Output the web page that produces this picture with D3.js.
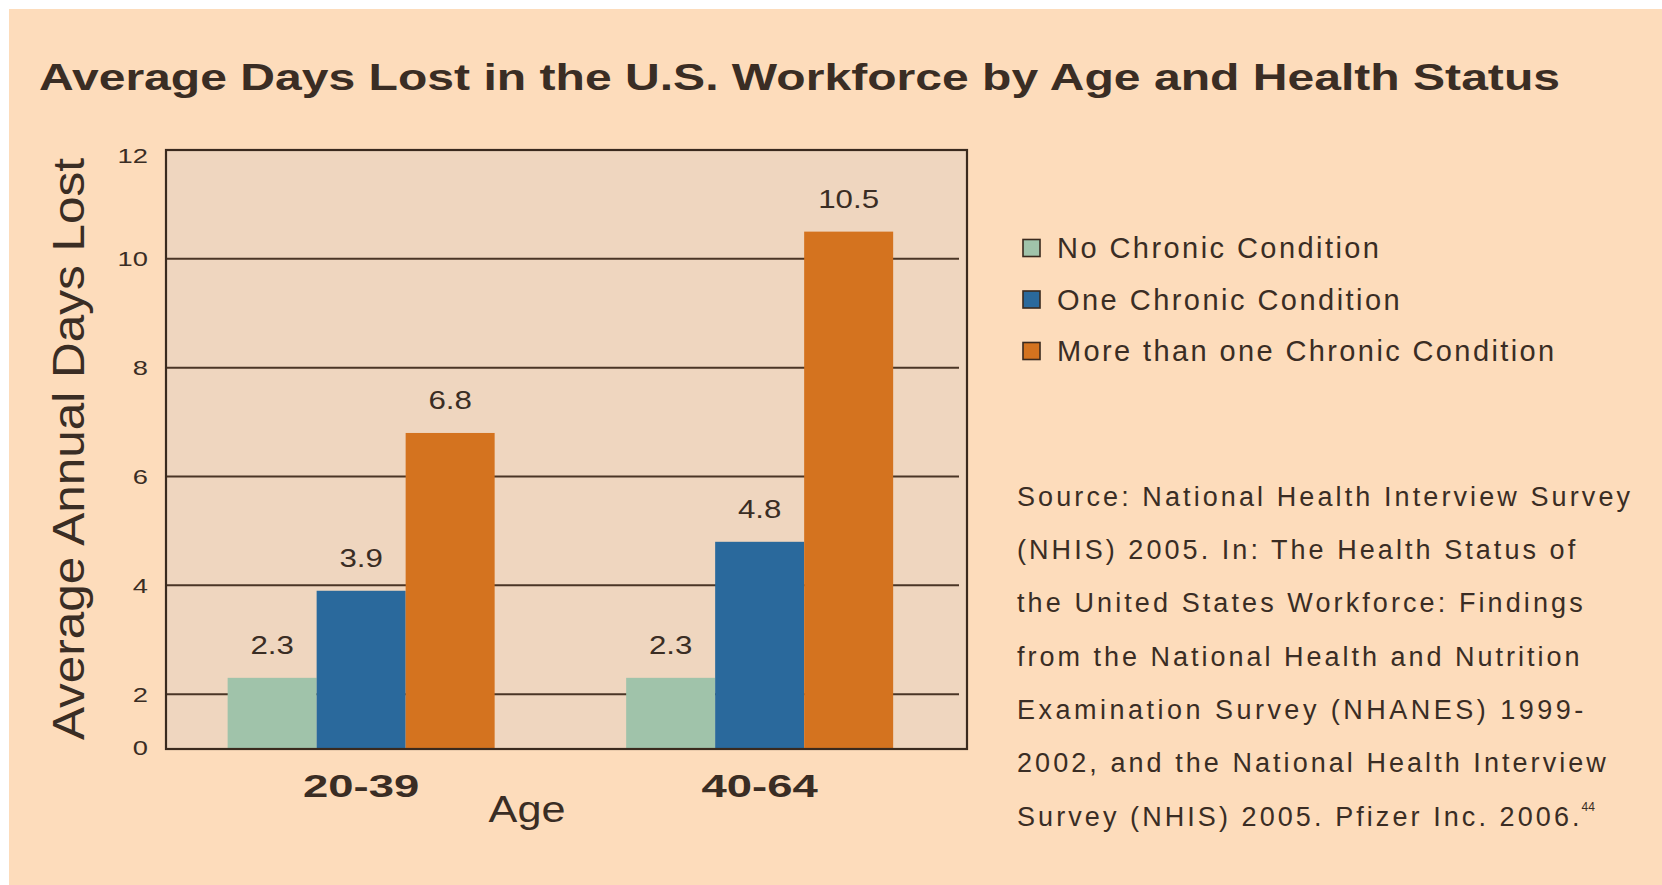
<!DOCTYPE html>
<html>
<head>
<meta charset="utf-8">
<script src="https://cdn.jsdelivr.net/npm/d3@7"></script>
<style>
  html, body { margin: 0; padding: 0; background: #ffffff; }
  svg { display: block; }
  text { font-family: "Liberation Sans", Arial, Helvetica, sans-serif; fill: #3a2d24; }
</style>
</head>
<body>
<svg id="chart" width="1662" height="885"></svg>
<script>
// ---- data ----
const ageGroups = ["20-39", "40-64"];
const conditions = ["No Chronic Condition", "One Chronic Condition", "More than one Chronic Condition"];
const noChronic = [2.3, 2.3];
const oneChronic = [3.9, 4.8];
const multiChronic = [6.8, 10.5];
const yTickValues = [0, 2, 4, 6, 8, 10, 12];
const gridValues = [2, 4, 6, 8, 10];
const sourceLines = [
  "Source: National Health Interview Survey",
  "(NHIS) 2005. In: The Health Status of",
  "the United States Workforce: Findings",
  "from the National Health and Nutrition",
  "Examination Survey (NHANES) 1999-",
  "2002, and the National Health Interview",
  "Survey (NHIS) 2005. Pfizer Inc. 2006."
];
const sourceNote = "44";

const seriesValues = [noChronic, oneChronic, multiChronic];
const colors = ["#a0c3aa", "#2a699c", "#d4731f"];

// ---- layout ----
const W = 1662, H = 885;
const plot = { left: 166, right: 967, top: 150, bottom: 749 };
const ink = "#3a2a1e";

const svg = d3.select("#chart");

// stretch text along its run so the lettering sits wide
function stretch(sel, k, mode) {
  sel.each(function () {
    const n = this.getComputedTextLength();
    d3.select(this).attr("textLength", n * k).attr("lengthAdjust", mode || "spacingAndGlyphs");
  });
}
function fitWidth(sel, w, mode) {
  sel.attr("textLength", w).attr("lengthAdjust", mode || "spacingAndGlyphs");
}

// page background
svg.append("rect").attr("x", 0).attr("y", 0).attr("width", W).attr("height", H).attr("fill", "#ffffff");
svg.append("rect").attr("x", 9).attr("y", 9).attr("width", W - 9).attr("height", H - 9).attr("fill", "#fddcbb");

// scales
const x0 = d3.scaleBand().domain(ageGroups).range([plot.left, plot.right])
  .paddingInner(0.33).paddingOuter(0.17).align(0.455);
const x1 = d3.scaleBand().domain(d3.range(conditions.length)).range([0, x0.bandwidth()]).padding(0);
const y = d3.scaleLinear().domain([0, 12]).range([803, plot.top]);

// plot panel
svg.append("rect")
  .attr("x", plot.left).attr("y", plot.top)
  .attr("width", plot.right - plot.left).attr("height", plot.bottom - plot.top)
  .attr("fill", "#efd6bf");

// gridlines
svg.append("g").selectAll("line").data(gridValues).join("line")
  .attr("x1", plot.left).attr("x2", plot.right - 8)
  .attr("y1", d => y(d)).attr("y2", d => y(d))
  .attr("stroke", "#4a3526").attr("stroke-width", 2);

// bars
const rows = [];
ageGroups.forEach((g, gi) => {
  seriesValues.forEach((vals, si) => rows.push({ group: g, series: si, value: vals[gi] }));
});

svg.append("g").selectAll("rect").data(rows).join("rect")
  .attr("x", d => x0(d.group) + x1(d.series))
  .attr("width", x1.bandwidth())
  .attr("y", d => y(d.value))
  .attr("height", d => plot.bottom - y(d.value))
  .attr("fill", d => colors[d.series]);

// value labels
svg.append("g").selectAll("text").data(rows).join("text")
  .attr("x", d => x0(d.group) + x1(d.series) + x1.bandwidth() / 2)
  .attr("y", d => y(d.value) - 24)
  .attr("text-anchor", "middle")
  .attr("font-size", 25)
  .text(d => d.value.toFixed(1))
  .call(stretch, 1.25);

// frame
svg.append("rect")
  .attr("x", plot.left).attr("y", plot.top)
  .attr("width", plot.right - plot.left).attr("height", plot.bottom - plot.top)
  .attr("fill", "none").attr("stroke", ink).attr("stroke-width", 2.2);

// y tick labels (zero sits on the panel floor)
svg.append("g").selectAll("text").data(yTickValues).join("text")
  .attr("x", 148)
  .attr("y", d => d === 0 ? plot.bottom - 2 : y(d) + (d === 12 ? 5 : 0))
  .attr("dy", "0.36em")
  .attr("text-anchor", "end")
  .attr("font-size", 21)
  .text(d => d)
  .call(stretch, 1.3);

// category labels
svg.append("g").selectAll("text").data(ageGroups).join("text")
  .attr("x", d => x0(d) + x0.bandwidth() / 2)
  .attr("y", 797)
  .attr("text-anchor", "middle")
  .attr("font-size", 32)
  .attr("font-weight", "bold")
  .text(d => d)
  .call(stretch, 1.42);

// axis titles
svg.append("text")
  .attr("x", 527).attr("y", 822)
  .attr("text-anchor", "middle")
  .attr("font-size", 36)
  .text("Age")
  .call(stretch, 1.2);

svg.append("text")
  .attr("transform", "translate(84,449) rotate(-90)")
  .attr("text-anchor", "middle")
  .attr("font-size", 44)
  .text("Average Annual Days Lost")
  .call(fitWidth, 582);

// chart title
svg.append("text")
  .attr("x", 39).attr("y", 90)
  .attr("font-size", 36)
  .attr("font-weight", "bold")
  .text("Average Days Lost in the U.S. Workforce by Age and Health Status")
  .call(fitWidth, 1521);

// legend
const legend = svg.append("g").selectAll("g").data(conditions).join("g")
  .attr("transform", (d, i) => `translate(1023,${248 + i * 51.5})`);
legend.append("rect")
  .attr("x", 0).attr("y", -8.5).attr("width", 17).attr("height", 17)
  .attr("fill", (d, i) => colors[i])
  .attr("stroke", ink).attr("stroke-width", 1.6);
const legendText = legend.append("text")
  .attr("x", 34).attr("dy", "0.36em")
  .attr("font-size", 29)
  .text(d => d);
{
  const k = 322 / legendText.node().getComputedTextLength();
  legendText.call(stretch, k, "spacing");
}

// source note
const src = svg.append("g").selectAll("text").data(sourceLines).join("text")
  .attr("x", 1017)
  .attr("y", (d, i) => 496 + i * 53.3)
  .attr("dy", "0.36em")
  .attr("font-size", 27)
  .text(d => d);
{
  const k = 613 / src.node().getComputedTextLength();
  src.call(stretch, k, "spacing");
  const last = src.filter((d, i) => i === sourceLines.length - 1).node();
  svg.append("text")
    .attr("x", 1017 + (+last.getAttribute("textLength")) + 2)
    .attr("y", 496 + (sourceLines.length - 1) * 53.3 - 5)
    .attr("font-size", 12)
    .text(sourceNote);
}
</script>
</body>
</html>
